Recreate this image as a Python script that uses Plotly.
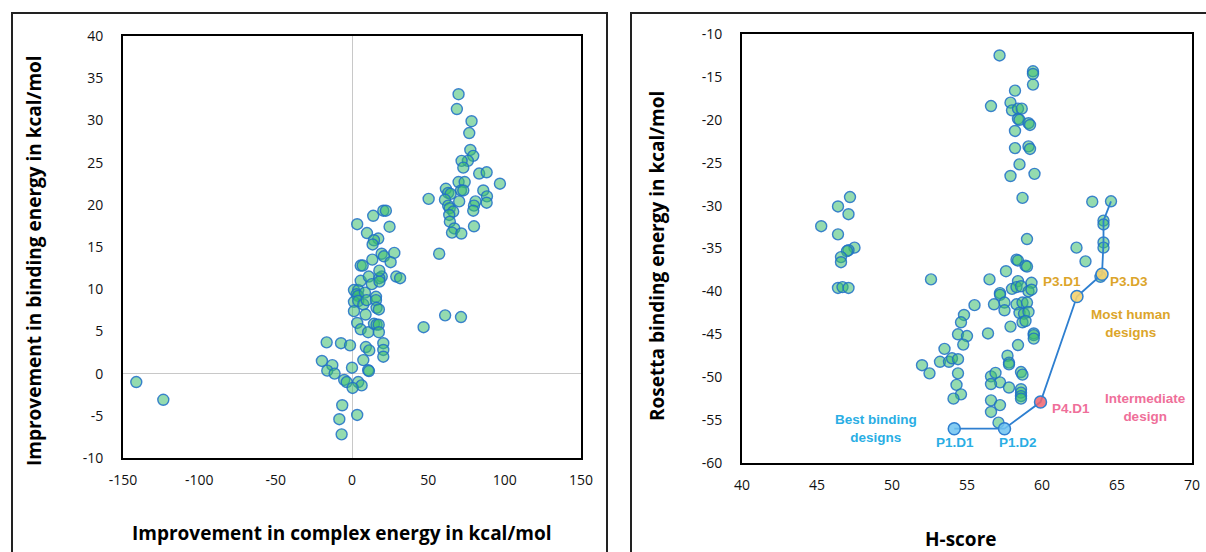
import plotly.graph_objects as go

# ---------------- Left panel data ----------------
complex_x = [-141.3, -123.6,
             -16.6, -7.2, -1.3, 9.1, 11.3, 20.5, 20.5, 20.5, 7.4, -19.7, -12.9, -16.2, -11.4, 0.0, 10.6, 11.1,
             -5.1, -3.5, 4.1, 6.3, 0.4, -6.4, 3.4, -8.3, -6.8,
             1.3, 4.1, 3.0, 4.0, 8.5, 1.3, 4.1, 7.4, 9.6, 15.7, 15.7, 16.1, 17.6, 1.3, 8.9, 3.4, 5.7, 10.6,
             14.4, 16.1, 17.5, 17.6, 61.0, 71.4, 46.9,
             5.7, 11.0, 19.5, 17.9, 29.0, 31.5, 13.0, 18.0,
             3.4, 13.9, 20.5, 22.2, 24.6, 9.8, 17.2, 14.4, 13.5, 19.4, 20.9, 27.7, 13.3, 25.3, 5.7, 7.0, 17.9,
             69.8, 68.7, 78.3, 76.8, 77.5, 79.4, 75.9, 71.8, 72.9, 83.3, 88.2, 96.9, 69.8, 73.8, 71.4, 72.9,
             86.0, 88.4, 88.2, 61.5, 63.0, 64.6, 60.9, 50.2, 70.2, 63.0, 64.0, 66.3, 63.7, 80.9, 79.9, 79.4,
             64.1, 67.0, 65.5, 71.6, 79.9, 57.1]
binding_y = [-1.0, -3.1,
             3.7, 3.6, 3.35, 3.15, 2.75, 3.6, 2.8, 2.0, 1.6, 1.5, 1.0, 0.35, 0.0, 0.7, 0.4, 0.3,
             -0.75, -1.0, -1.0, -1.4, -1.7, -3.75, -4.9, -5.4, -7.2,
             9.9, 9.9, 9.4, 9.2, 9.6, 8.5, 8.6, 8.2, 8.7, 9.1, 8.7, 7.8, 7.6, 7.4, 7.0, 6.0, 5.25, 4.9,
             5.9, 5.8, 5.8, 4.9, 6.9, 6.7, 5.5,
             11.0, 11.5, 11.5, 11.3, 11.5, 11.3, 10.6, 10.9,
             17.7, 18.7, 19.3, 19.3, 17.4, 16.65, 16.0, 15.8, 15.3, 14.2, 13.9, 14.3, 13.5, 13.2, 12.8, 12.8, 12.2,
             33.1, 31.35, 29.9, 28.5, 26.5, 25.8, 25.2, 25.2, 24.4, 23.7, 23.85, 22.5, 22.7, 22.7, 21.7, 21.7,
             21.7, 21.0, 20.25, 21.9, 21.4, 21.3, 20.6, 20.7, 20.4, 19.9, 19.6, 19.2, 18.8, 20.4, 19.9, 19.3,
             18.0, 17.2, 16.7, 16.6, 17.45, 14.2]
left_xticks = [-150, -100, -50, 0, 50, 100, 150]
left_xtick_labels = ["-150", "-100", "-50", "0", "50", "100", "150"]
left_yticks = [-10, -5, 0, 5, 10, 15, 20, 25, 30, 35, 40]
left_ytick_labels = ["-10", "-5", "0", "5", "10", "15", "20", "25", "30", "35", "40"]

# ---------------- Right panel data ----------------
hscore = [45.28, 46.4, 47.2, 47.1, 46.4, 47.5, 47.1, 47.0, 46.6, 46.6, 46.4, 46.7, 47.1,
          57.17, 59.4, 59.4, 59.4, 58.2, 56.6, 57.9, 58.0, 58.4, 58.65, 58.4, 58.5, 59.1, 59.2, 58.2,
          58.2, 59.1, 59.2, 58.5, 57.9, 59.5, 58.7, 63.35, 64.1, 64.1, 64.1, 64.1, 59.0, 62.3, 62.9,
          58.3, 58.4, 58.9, 59.0, 57.6, 63.9, 64.6,
          52.6, 56.5, 58.4, 59.3, 57.2, 57.2, 58.0, 58.3, 58.6, 55.5, 56.8, 57.5, 57.5, 58.3, 58.7, 59.0,
          59.1, 59.3, 58.5, 58.8, 59.1, 58.7, 58.9, 54.8, 54.6, 54.4, 55.0, 54.75, 56.4, 57.9, 59.45,
          59.45, 59.45, 58.4, 53.5, 53.2, 53.8, 54.0, 54.4, 52.0, 52.5, 54.4, 54.3, 54.6, 54.1, 57.7,
          57.8, 57.8, 56.6, 56.9, 57.2, 56.6, 57.8, 58.6, 58.7, 58.6, 58.6, 58.6, 58.6, 56.6, 57.2,
          56.6, 57.1]
rosetta = [-32.4, -30.1, -29.0, -31.0, -33.35, -34.9, -35.2, -35.3, -36.0, -36.6, -39.6, -39.5, -39.6,
           -12.5, -14.35, -14.66, -15.9, -16.6, -18.4, -18.0, -18.9, -18.7, -18.7, -19.9, -20.0, -20.4, -20.6, -21.3,
           -23.3, -23.1, -23.4, -25.2, -26.55, -26.3, -29.1, -29.55, -31.75, -32.2, -34.3, -34.9, -33.9, -34.9, -36.5,
           -36.3, -36.4, -37.0, -37.1, -37.65, -38.3, -29.5,
           -38.6, -38.6, -38.8, -39.0, -40.2, -40.4, -39.7, -39.5, -39.4, -41.6, -41.5, -41.3, -42.2, -41.5, -41.3, -41.3,
           -40.0, -39.8, -42.5, -42.6, -42.4, -43.6, -43.45, -42.75, -43.6, -45.0, -45.2, -46.2, -44.9, -44.1, -44.9,
           -45.1, -45.5, -46.25, -46.7, -48.2, -48.2, -47.8, -47.9, -48.6, -49.55, -49.55, -50.9, -52.0, -52.5, -47.5,
           -48.3, -48.5, -49.9, -49.5, -50.6, -50.8, -51.2, -49.4, -49.7, -51.4, -51.8, -52.2, -52.5, -52.7, -53.25,
           -54.05, -55.3]
right_xticks = [40, 45, 50, 55, 60, 65, 70]
right_xtick_labels = ["40", "45", "50", "55", "60", "65", "70"]
right_yticks = [-60, -55, -50, -45, -40, -35, -30, -25, -20, -15, -10]
right_ytick_labels = ["-60", "-55", "-50", "-45", "-40", "-35", "-30", "-25", "-20", "-15", "-10"]

# Path of selected designs
path_h = [54.15, 57.5, 59.9, 62.33, 64.0, 64.1, 64.1, 64.1, 64.1, 64.6]
path_r = [-56.0, -56.0, -52.9, -40.6, -38.0, -34.9, -34.3, -32.2, -31.75, -29.5]

design_names = ["P1.D1", "P1.D2", "P4.D1", "P3.D1", "P3.D3"]
design_h = [54.15, 57.5, 59.9, 62.33, 64.0]
design_r = [-56.0, -56.0, -52.9, -40.6, -38.0]
design_fill = ["rgba(110,195,240,0.85)", "rgba(110,195,240,0.85)", "rgba(240,100,110,0.85)",
               "rgba(245,210,110,0.9)", "rgba(245,210,110,0.9)"]

# Page body margin is removed (post_script), so paper == window
W, H = 1206, 552
def px(x):
    return x / W
def py(y):
    return 1 - y / H

marker_style = dict(size=11, color="rgba(60,190,110,0.55)",
                    line=dict(color="rgba(30,110,200,0.85)", width=1.4))

fig = go.Figure()
fig.add_trace(go.Scatter(x=complex_x, y=binding_y, mode="markers", marker=marker_style,
                         xaxis="x", yaxis="y", showlegend=False))
fig.add_trace(go.Scatter(x=hscore, y=rosetta, mode="markers", marker=marker_style,
                         xaxis="x2", yaxis="y2", showlegend=False))
fig.add_trace(go.Scatter(x=path_h, y=path_r, mode="lines",
                         line=dict(color="#2e7fd0", width=1.8),
                         xaxis="x2", yaxis="y2", showlegend=False))
fig.add_trace(go.Scatter(x=design_h, y=design_r, mode="markers",
                         marker=dict(size=12, color=design_fill,
                                     line=dict(color="#2e7fd0", width=1.5)),
                         xaxis="x2", yaxis="y2", showlegend=False))

tickfont = dict(family="Open Sans, Liberation Sans, sans-serif", size=14, color="#111")
axis_common = dict(showgrid=False, showline=True, linecolor="#000", linewidth=2, mirror=True,
                   ticks="", tickfont=tickfont, automargin=False, ticklabeloverflow="allow")

fig.update_layout(
    width=W, height=H,
    margin=dict(l=0, r=0, t=0, b=0, autoexpand=False),
    paper_bgcolor="white", plot_bgcolor="white",
    xaxis=dict(domain=[px(123), px(581)], range=[-150, 150], tickvals=left_xticks, ticktext=left_xtick_labels,
               zeroline=True, zerolinecolor="#c8c8c8", zerolinewidth=1.2, ticklabelstandoff=8,
               anchor="y", **axis_common),
    yaxis=dict(domain=[py(458), py(36)], range=[-10, 40], tickvals=left_yticks, ticktext=left_ytick_labels,
               zeroline=True, zerolinecolor="#c8c8c8", zerolinewidth=1.2, ticklabelstandoff=15,
               anchor="x", **axis_common),
    xaxis2=dict(domain=[px(742), px(1192)], range=[40, 70], tickvals=right_xticks, ticktext=right_xtick_labels,
                zeroline=False, ticklabelstandoff=8, anchor="y2", **axis_common),
    yaxis2=dict(domain=[py(463), py(34)], range=[-60, -10], tickvals=right_yticks, ticktext=right_ytick_labels,
                zeroline=False, ticklabelstandoff=15, anchor="x2", **axis_common),
)

# Outer frames
fig.add_shape(type="rect", xref="paper", yref="paper", x0=px(12), x1=px(607), y0=py(620), y1=py(13),
              line=dict(color="#222", width=2), layer="below")
fig.add_shape(type="rect", xref="paper", yref="paper", x0=px(631), x1=px(1240), y0=py(620), y1=py(13),
              line=dict(color="#222", width=2), layer="below")

titlefont = dict(family="Open Sans, Liberation Sans, sans-serif", size=19, color="#000")
axis_titles = [
    ("Improvement in binding energy in kcal/mol", 34, 261, -90),
    ("Improvement in complex energy in kcal/mol", 341, 533, 0),
    ("Rosetta binding energy in kcal/mol", 657, 256, -90),
    ("H-score", 960, 539, 0),
]
for t, x, y, ang in axis_titles:
    fig.add_annotation(xref="paper", yref="paper", x=px(x), y=py(y), text="<b>" + t + "</b>",
                       textangle=ang, showarrow=False, xanchor="center", yanchor="middle", font=titlefont)

labfont = "Liberation Sans, Arial, sans-serif"
blue, gold, pink = "#2aaee4", "#dca52a", "#ef6f9a"
labels = [
    ("P1.D1", 54.2, -57.6, blue),
    ("P1.D2", 58.4, -57.6, blue),
    ("Best binding<br>designs", 48.96, -56.0, blue),
    ("P4.D1", 61.9, -53.6, pink),
    ("Intermediate<br>design", 66.9, -53.55, pink),
    ("P3.D1", 61.3, -38.8, gold),
    ("P3.D3", 65.8, -38.8, gold),
    ("Most human<br>designs", 65.9, -43.7, gold),
]
for t, x, y, c in labels:
    fig.add_annotation(xref="x2", yref="y2", x=x, y=y, text="<b>" + t + "</b>", showarrow=False,
                       xanchor="center", yanchor="middle",
                       font=dict(family=labfont, size=13.5, color=c))

fig.write_html("out.html", config={"displayModeBar": False},
               post_script="document.body.style.margin='0px'; document.body.style.overflow='hidden';")
